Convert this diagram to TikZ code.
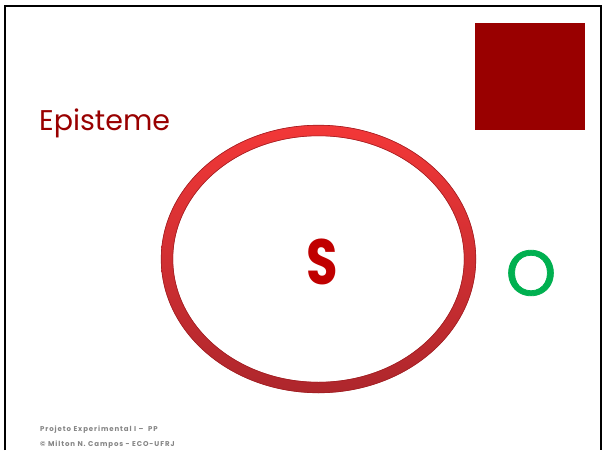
\documentclass[tikz,border=0pt]{standalone}
\usepackage{fontspec}
\setmainfont{Poppins}
\newfontfamily\ofont[FakeBold=1.2]{Poppins}
\newfontfamily\footfont[LetterSpace=13]{Poppins}
\definecolor{darkred}{HTML}{990000}
\definecolor{sred}{HTML}{C00000}
\definecolor{ogreen}{HTML}{00B050}
\definecolor{footgray}{HTML}{858585}
\definecolor{ringtop}{RGB}{244,56,56}
\definecolor{ringmid}{RGB}{226,28,32}
\definecolor{ringbot}{RGB}{172,38,44}
\definecolor{ringedge}{RGB}{160,30,34}
\tikzset{
  frameline/.style={line width=2pt, black},
  titletext/.style={anchor=base west, inner sep=0pt, text=darkred, font=\fontsize{28.5}{29}\selectfont},
  bigletter/.style={inner sep=0pt, font=\bfseries\fontsize{64}{64}\selectfont},
  foottext/.style={anchor=base west, inner sep=0pt, text=footgray, font=\footfont\bfseries\fontsize{7}{8}\selectfont}
}
\begin{document}
\begin{tikzpicture}[x=1pt,y=-1pt]
\useasboundingbox (0,0) rectangle (602,450);
\fill[white] (0,0) rectangle (602,450);
% slide frame (no bottom edge)
\draw[frameline] (4.5,450) -- (4.5,5.5) -- (600.5,5.5) -- (600.5,450);
% red square
\fill[darkred] (475,23) rectangle (585,130);
% title
\node[titletext] (title) at (39,130) {Episteme};
% ring
\begin{scope}[even odd rule]
  \clip (318.5,259) ellipse [x radius=157.5, y radius=134]
        (318.5,259) ellipse [x radius=145.5, y radius=123];
  \shade[top color=ringtop, middle color=ringmid, bottom color=ringbot] (150,120) rectangle (490,400);
\end{scope}
\draw[ringedge, line width=0.6pt] (318.5,259) ellipse [x radius=157.3, y radius=133.8];
\draw[ringedge, line width=0.6pt] (318.5,259) ellipse [x radius=145.7, y radius=123.2];
% letters
\node[bigletter, text=sred, xscale=0.8] (s) at (322,262) {S};
\node[inner sep=0pt, text=ogreen, font=\ofont\fontsize{64}{64}\selectfont] (o) at (531,273) {O};
% footer
\node[foottext] (f1) at (40,431) {Projeto Experimental I –\ \ PP};
\node[foottext] (f2) at (40,446) {© Milton N. Campos - ECO-UFRJ};
\end{tikzpicture}
\end{document}
